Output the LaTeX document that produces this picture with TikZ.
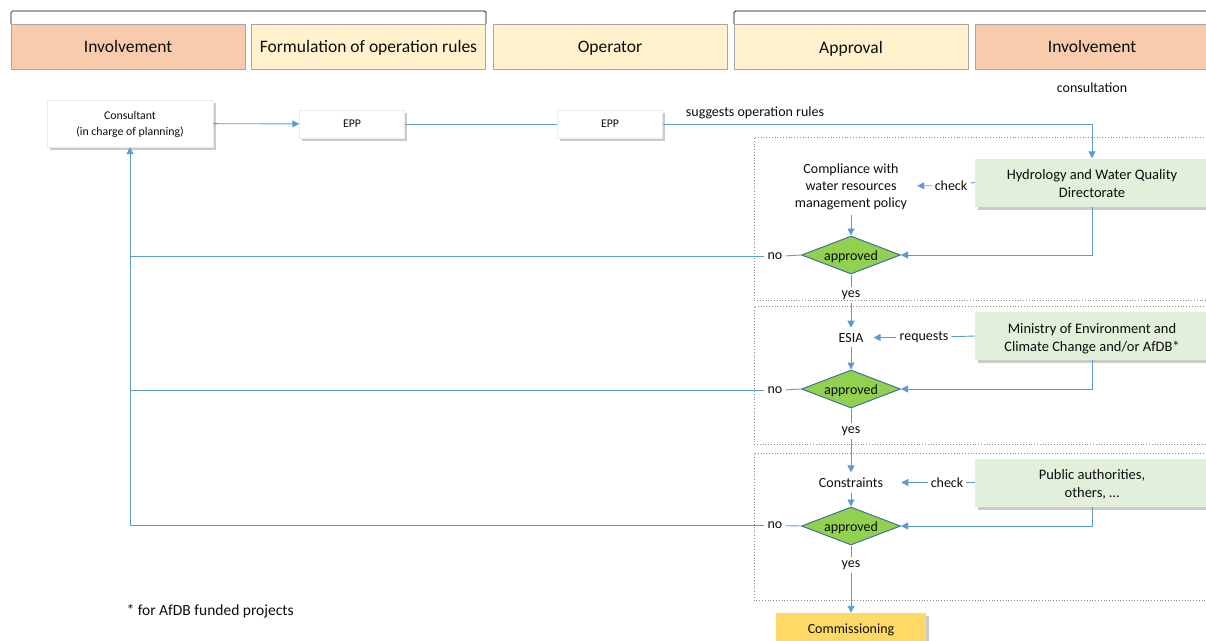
\documentclass[tikz,border=0pt]{standalone}
\usepackage{fontspec}
\setmainfont{Carlito}
\usetikzlibrary{shapes.geometric,arrows.meta,shadows}
\definecolor{involve}{HTML}{F8CBAD}
\definecolor{phase}{HTML}{FFF2CC}
\definecolor{actor}{HTML}{E2EFDA}
\definecolor{okfill}{HTML}{92D050}
\definecolor{okdraw}{HTML}{41719C}
\definecolor{flow}{HTML}{5B9BD5}
\definecolor{done}{HTML}{FFD966}
\newcommand{\sinktext}[2]{\raisebox{-#1}[\height][\depth]{#2}}
\newcommand{\twoline}[2]{\sinktext{2.5pt}{\begin{tabular}{@{}c@{}}#1\\#2\end{tabular}}}
\begin{document}
\begin{tikzpicture}[
  x=1pt, y=-1pt,
  font=\fontsize{14}{17}\selectfont, text=black!95,
  hdr/.style={rectangle, minimum width=234pt, minimum height=45pt,
              draw=black!35, text height=13.5pt, text depth=2.5pt,
              font=\fontsize{17.5}{20}\selectfont},
  shade/.style={drop shadow={shadow xshift=2.5pt, shadow yshift=-3pt,
                fill=black!45, opacity=0.45}},
  plain/.style={rectangle, fill=white, draw=black!8, shade,
                font=\fontsize{11.8}{16}\selectfont, align=center},
  actor/.style={rectangle, fill=actor, minimum width=234pt,
                minimum height=48pt, shade,
                font=\fontsize{14.5}{18}\selectfont},
  txt/.style={align=center, inner xsep=10pt, inner ysep=5pt, yshift=-1.5pt},
  lbl/.style={inner sep=3pt, yshift=-1.5pt},
  ok/.style={diamond, fill=okfill, draw=okdraw, line width=1pt,
             minimum width=99pt, minimum height=38pt, inner sep=0pt},
  stage/.style={draw=black!45, dotted, line width=0.8pt},
  line/.style={draw=flow, line width=0.9pt},
  arr/.style={line, -{Triangle[length=7pt,width=7pt]}}
]
\useasboundingbox (0,0) rectangle (1206,640);
% phase headers
\draw[line width=0.7pt, rounded corners=1.5pt] (11,24) -- (11,11) -- (486,11) -- (486,24);
\draw[line width=0.7pt, rounded corners=1.5pt] (734,24) -- (734,11) -- (1215,11);
\node[hdr, fill=involve] (h1) at (128,46.5)   {Involvement};
\node[hdr, fill=phase]   (h2) at (368.5,46.5) {Formulation of operation rules};
\node[hdr, fill=phase]   (h3) at (610,46.5)   {Operator};
\node[hdr, fill=phase]   (h4) at (851,46.5)   {\raisebox{-1.5pt}{Approval}};
\node[hdr, fill=involve] (h5) at (1092,46.5)  {Involvement};
\node[lbl] (consult) at (1092,86) {consultation};
% approval stages
\draw[stage] (1215,137) -| (754,300) -- (1215,300);
\draw[stage] (1215,306) -| (754,444) -- (1215,444);
\draw[stage] (1215,453) -| (754,600) -- (1215,600);
% planning
\node[plain, minimum width=166pt, minimum height=47pt] (cons) at (130,123.5)
  {\sinktext{1pt}{\begin{tabular}{@{}c@{}}Consultant\\(in charge of planning)\end{tabular}}};
\node[plain, minimum width=105pt, minimum height=28pt] (epp1) at (352,124) {EPP};
\node[plain, minimum width=105pt, minimum height=28pt] (epp2) at (610,124) {EPP};
\node[lbl] (sugg) at (755,111) {suggests operation rules};
% actors
\node[actor] (hydro) at (1092,182.5) {\twoline{Hydrology and Water Quality}{Directorate}};
\node[actor] (minis) at (1092,336)   {\twoline{Ministry of Environment and}{Climate Change and/or AfDB*}};
\node[actor] (publ)  at (1092,482.5) {\twoline{Public authorities,}{others, \dots}};
% checks
\node[txt] (comp)  at (851,185) {Compliance with\\water resources\\management policy};
\node[txt] (esia)  at (851,336) {ESIA};
\node[txt, inner xsep=18pt] (constr) at (851,481) {Constraints};
\node[lbl] (chk1) at (951,184) {check};
\node[lbl] (req)  at (924,336) {requests};
\node[lbl] (chk2) at (947,481) {check};
% decisions
\node[ok] (d1) at (851,255) {\makebox[0pt]{\sinktext{1.5pt}{approved}}};
\node[ok] (d2) at (851,389) {\makebox[0pt]{\sinktext{1.5pt}{approved}}};
\node[ok] (d3) at (851,526) {\makebox[0pt]{\sinktext{1.5pt}{approved}}};
\node[lbl] (no1) at (775,255) {no};
\node[lbl] (no2) at (775,389) {no};
\node[lbl] (no3) at (775,524) {no};
\node[lbl] (yes1) at (851,293.5) {yes};
\node[lbl] (yes2) at (851,429.5) {yes};
\node[lbl] (yes3) at (851,563.5) {yes};
\node[rectangle, fill=done, shade, minimum width=150pt, minimum height=32pt] (comm)
  at (851,629) {\sinktext{1pt}{Commissioning}};
\node[font=\fontsize{15.5}{18}\selectfont, anchor=west] (note) at (123,611)
  {* for AfDB funded projects};
% flow
\draw[arr] (cons) -- (epp1);
\draw[line] (epp1) -- (epp2);
\draw[arr] (epp2) -| (hydro.north);
\draw[line] (hydro.west) -- (chk1);
\draw[arr] (chk1) -- (comp);
\draw[arr] (comp) -- (d1);
\draw[arr] (hydro.south) |- (d1.east);
\draw[line] (d1.south) -- (yes1);
\draw[arr] (yes1) -- (esia);
\draw[line] (minis.west) -- (req);
\draw[arr] (req) -- (esia);
\draw[arr] (esia) -- (d2);
\draw[arr] (minis.south) |- (d2.east);
\draw[line] (d2.south) -- (yes2);
\draw[arr] (yes2) -- (constr);
\draw[line] (publ.west) -- (chk2);
\draw[arr] (chk2) -- (constr);
\draw[arr] (constr) -- (d3);
\draw[arr] (publ.south) |- (d3.east);
\draw[line] (d3.south) -- (yes3);
\draw[arr] (yes3) -- (comm);
% back to planning
\draw[line] (d1.west) -- (no1);
\draw[line] (d2.west) -- (no2);
\draw[line] (d3.west) -- (no3);
\draw[line] (no1) -- (no1 -| cons.south);
\draw[line] (no2) -- (no2 -| cons.south);
\draw[arr] (no3) -| (cons.south);
\end{tikzpicture}
\end{document}
